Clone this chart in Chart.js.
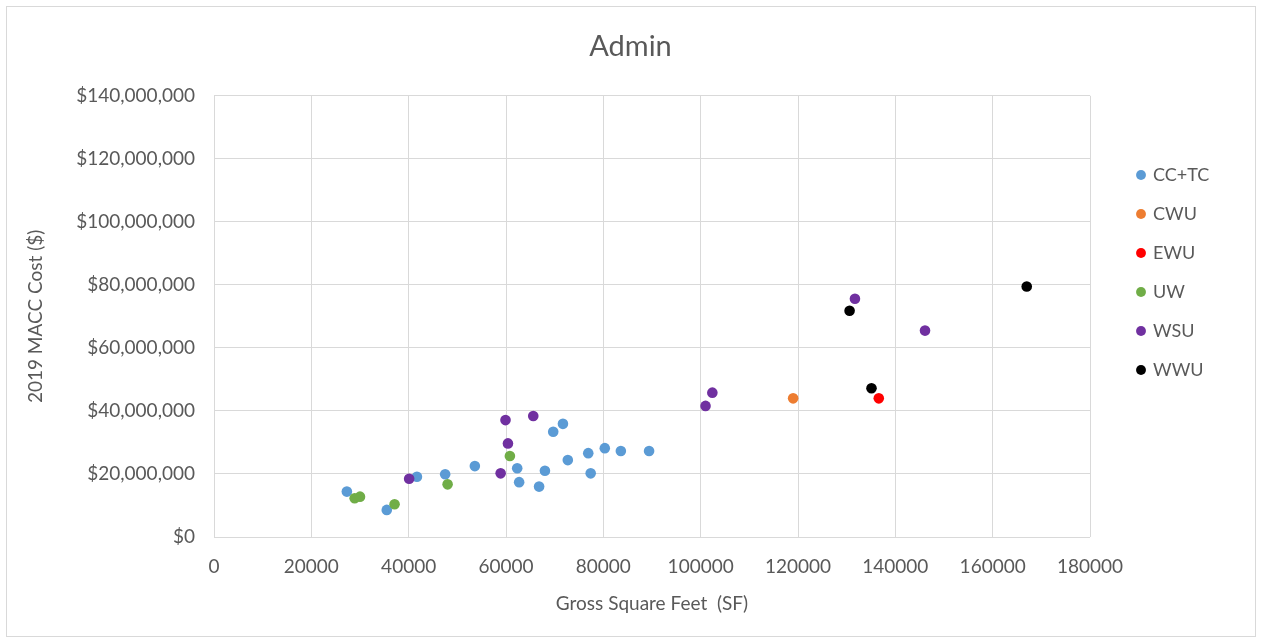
<!DOCTYPE html>
<html>
<head>
<meta charset="utf-8">
<script src="https://cdn.jsdelivr.net/npm/chart.js@4.4.1/dist/chart.umd.min.js"></script>
<style>
  html, body { margin: 0; padding: 0; background: #ffffff; }
  canvas { display: block; }
</style>
</head>
<body>
<canvas id="chart" width="1261" height="643"></canvas>
<script>
// Series names and marker colours
const seriesNames = ['CC+TC', 'CWU', 'EWU', 'UW', 'WSU', 'WWU'];
const seriesColors = ['#5B9BD5', '#ED7D31', '#FF0000', '#70AD47', '#7030A0', '#000000'];

// Gross square feet (x) and 2019 MACC cost in dollars (y) per institution group
const ccTcSf   = [27300, 35500, 41700, 47500, 53600, 62300, 62700, 66800, 68000, 69700, 71700, 72700, 76900, 77400, 80300, 83600, 89400];
const ccTcCost = [14400000, 8600000, 19100000, 19900000, 22500000, 21800000, 17400000, 16000000, 21000000, 33400000, 35900000, 24400000, 26600000, 20200000, 28200000, 27300000, 27300000];

const cwuSf   = [119000];
const cwuCost = [44000000];

const ewuSf   = [136600];
const ewuCost = [44000000];

const uwSf   = [28900, 30000, 37100, 48000, 60800];
const uwCost = [12300000, 12800000, 10400000, 16700000, 25700000];

const wsuSf   = [40100, 58900, 59900, 60400, 65600, 101000, 102400, 131700, 146100];
const wsuCost = [18500000, 20200000, 37100000, 29700000, 38400000, 41600000, 45800000, 75600000, 65500000];

const wwuSf   = [130600, 135100, 167000];
const wwuCost = [71800000, 47200000, 79500000];

// Axis ticks
const xTickValues = [0, 20000, 40000, 60000, 80000, 100000, 120000, 140000, 160000, 180000];
const xTickLabels = ['0', '20000', '40000', '60000', '80000', '100000', '120000', '140000', '160000', '180000'];
const yTickValues = [0, 20000000, 40000000, 60000000, 80000000, 100000000, 120000000, 140000000];
const yTickLabels = ['$0', '$20,000,000', '$40,000,000', '$60,000,000', '$80,000,000', '$100,000,000', '$120,000,000', '$140,000,000'];

const seriesX = [ccTcSf, cwuSf, ewuSf, uwSf, wsuSf, wwuSf];
const seriesY = [ccTcCost, cwuCost, ewuCost, uwCost, wsuCost, wwuCost];

const textColor = '#595959';
const gridColor = '#d9d9d9';
const fontFamily = 'Lato, "Open Sans", sans-serif';

function toPoints(xs, ys) {
  return xs.map((x, i) => ({ x: x, y: ys[i] }));
}

const datasets = seriesNames.map((name, i) => ({
  label: name,
  data: toPoints(seriesX[i], seriesY[i]),
  backgroundColor: seriesColors[i],
  borderColor: seriesColors[i],
  borderWidth: 0,
  pointRadius: 5.3,
  pointHoverRadius: 5.3,
  // later series paint over earlier ones
  order: seriesNames.length - i
}));

// White background and thin outer frame
const framePlugin = {
  id: 'frame',
  beforeDraw(chart) {
    const ctx = chart.ctx;
    ctx.save();
    ctx.fillStyle = '#ffffff';
    ctx.fillRect(0, 0, chart.width, chart.height);
    ctx.strokeStyle = gridColor;
    ctx.lineWidth = 1;
    ctx.strokeRect(6.5, 6.5, 1249, 630);
    ctx.restore();
  }
};

// Park the legend column to the right of the plot and centre the title on the whole frame
const placementPlugin = {
  id: 'placement',
  afterLayout(chart) {
    const lg = chart.legend;
    if (lg) {
      const w = lg.width, h = lg.height;
      lg.left = 1117;
      lg.top = 145;
      lg.right = lg.left + w;
      lg.bottom = lg.top + h;
    }
    const tb = chart.titleBlock;
    if (tb) {
      tb.left = 7;
      tb.right = chart.width - 7;
      tb.width = tb.right - tb.left;
    }
  }
};

function build() {
  new Chart(document.getElementById('chart'), {
    type: 'scatter',
    data: { datasets: datasets },
    plugins: [framePlugin, placementPlugin],
    options: {
      responsive: false,
      animation: false,
      events: [],
      layout: { padding: { left: 7, right: 171, top: 7, bottom: 7 } },
      plugins: {
        title: {
          display: true,
          text: 'Admin',
          color: textColor,
          font: { family: fontFamily, size: 29, weight: 'normal' },
          padding: { top: 22, bottom: 32 }
        },
        legend: {
          position: 'chartArea',
          align: 'start',
          labels: {
            usePointStyle: true,
            pointStyle: 'circle',
            boxWidth: 6,
            boxHeight: 7,
            padding: 21,
            color: textColor,
            font: { family: fontFamily, size: 18 },
            sort: (a, b) => a.datasetIndex - b.datasetIndex
          }
        },
        tooltip: { enabled: false }
      },
      scales: {
        x: {
          type: 'linear',
          min: xTickValues[0],
          max: xTickValues[xTickValues.length - 1],
          afterBuildTicks(scale) {
            scale.ticks = xTickValues.map(v => ({ value: v }));
          },
          ticks: {
            color: textColor,
            font: { family: fontFamily, size: 19 },
            padding: 18,
            maxRotation: 0,
            autoSkip: false,
            callback: (v) => xTickLabels[xTickValues.indexOf(v)]
          },
          grid: { color: gridColor, drawTicks: false },
          border: { display: false },
          title: {
            display: true,
            text: 'Gross Square Feet  (SF)',
            color: textColor,
            font: { family: fontFamily, size: 19 },
            padding: { top: 0, bottom: 21 }
          },
          afterFit(scale) { scale.height = 99; }
        },
        y: {
          type: 'linear',
          min: yTickValues[0],
          max: yTickValues[yTickValues.length - 1],
          afterBuildTicks(scale) {
            scale.ticks = yTickValues.map(v => ({ value: v }));
          },
          ticks: {
            color: textColor,
            font: { family: fontFamily, size: 19 },
            padding: 19,
            autoSkip: false,
            callback: (v) => yTickLabels[yTickValues.indexOf(v)]
          },
          grid: { color: gridColor, drawTicks: false },
          border: { display: false },
          title: {
            display: true,
            text: '2019 MACC Cost ($)',
            color: textColor,
            font: { family: fontFamily, size: 19 },
            padding: { top: 17, bottom: 0 }
          },
          afterFit(scale) { scale.width = 207; }
        }
      }
    }
  });
}

if (document.fonts && document.fonts.load) {
  Promise.all([
    document.fonts.load('19px Lato'),
    document.fonts.load('29px Lato')
  ]).then(build, build);
} else {
  build();
}
</script>
</body>
</html>
